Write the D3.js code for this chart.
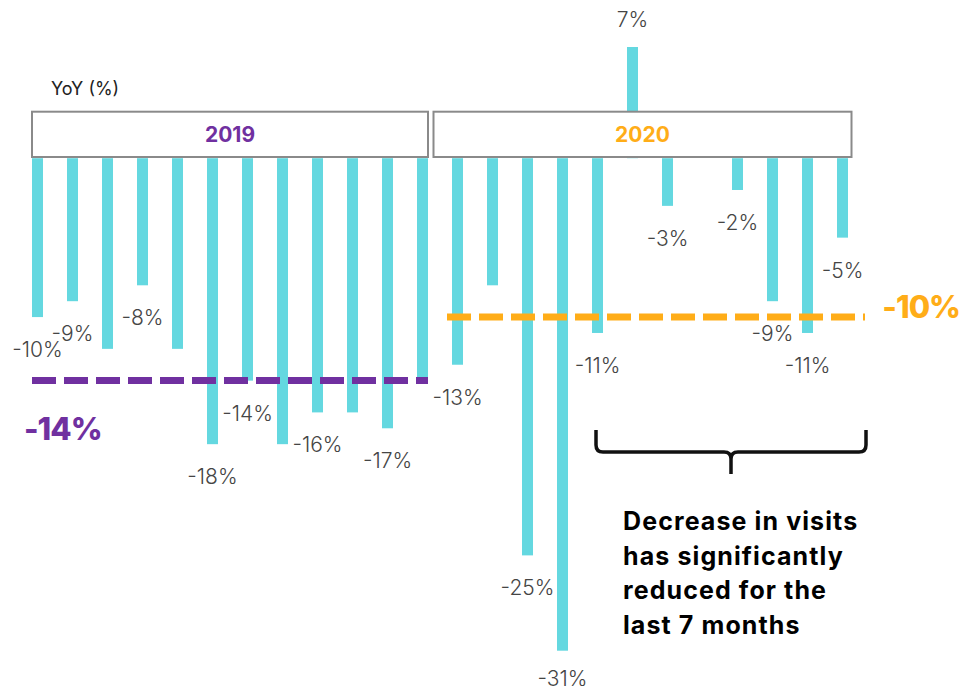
<!DOCTYPE html>
<html>
<head>
<meta charset="utf-8">
<script src="https://cdn.jsdelivr.net/npm/d3@7/dist/d3.min.js"></script>
<style>
  html, body { margin: 0; padding: 0; background: #ffffff; }
  svg { display: block; }
</style>
</head>
<body>
<div id="chart"></div>
<script>
// Monthly year-over-year change in visits (%), Jan 2019 – Dec 2020
const months = d3.range(24);
const yoy2019 = [-10, -9, -12, -8, -12, -18, -14, -18, -16, -16, -17, -14];
const yoy2020 = [-13, -8, -25, -31, -11, 7, -3, 0, -2, -9, -11, -5];
const yoyValues = yoy2019.concat(yoy2020);

// Which bars carry a value label
const labelled2019 = [true, true, false, true, false, true, true, false, true, false, true, false];
const labelled2020 = [true, false, true, true, true, true, true, false, true, true, true, true];
const labelled = labelled2019.concat(labelled2020);

// Yearly averages shown as dashed reference lines
const years = ["2019", "2020"];
const yearAverages = [-14, -10];
const yearColors = ["#7030a0", "#ffad18"];

const annotationLines = [
  "Decrease in visits",
  "has significantly",
  "reduced for the",
  "last 7 months"
];

const W = 961, H = 694;
const FONT = "Inter, 'Open Sans', sans-serif";
const barColor = "#64d8e0";
const labelColor = "#454545";

const svg = d3.select("#chart").append("svg")
  .attr("width", W).attr("height", H)
  .attr("viewBox", `0 0 ${W} ${H}`);

const x = d3.scaleBand().domain(months).range([20, 860]).padding(0);
const y = d3.scaleLinear().domain([-31, 7]).range([650.7, 47]);
const barW = 11;
const cx = i => x(i) + x.bandwidth() / 2;

// Bars
svg.append("g").selectAll("rect")
  .data(yoyValues)
  .join("rect")
  .attr("x", (d, i) => cx(i) - barW / 2)
  .attr("y", d => y(Math.max(0, d)))
  .attr("width", barW)
  .attr("height", d => Math.abs(y(d) - y(0)))
  .attr("fill", barColor);

// Year header boxes, drawn over the bar roots
const boxes = [
  { x0: cx(0) - barW / 2, x1: cx(11) + barW / 2 },
  { x0: cx(11) + barW / 2 + 5.5, x1: cx(23) + barW / 2 + 3.5 }
];
const boxTop = 111.7, boxBottom = 157;
const header = svg.append("g");
header.selectAll("rect")
  .data(boxes)
  .join("rect")
  .attr("x", d => d.x0)
  .attr("y", boxTop)
  .attr("width", d => d.x1 - d.x0)
  .attr("height", boxBottom - boxTop)
  .attr("fill", "#ffffff")
  .attr("stroke", "#8a8a8a")
  .attr("stroke-width", 2);
header.selectAll("text")
  .data(years)
  .join("text")
  .attr("x", (d, i) => (boxes[i].x0 + boxes[i].x1) / 2)
  .attr("y", 141.5)
  .attr("text-anchor", "middle")
  .attr("font-family", FONT)
  .attr("font-weight", 700)
  .attr("font-size", 21)
  .attr("fill", (d, i) => yearColors[i])
  .text(d => d);

// Axis caption
svg.append("text")
  .attr("x", 51)
  .attr("y", 95)
  .attr("font-family", FONT)
  .attr("font-size", 18)
  .attr("fill", "#222")
  .text("YoY (%)");

// Value labels: below negative bars, above positive ones
svg.append("g").selectAll("text")
  .data(yoyValues.map((v, i) => ({ v, i })).filter(d => labelled[d.i]))
  .join("text")
  .attr("x", d => cx(d.i))
  .attr("y", d => d.v < 0 ? Math.min(y(d.v) + 40, H - 8) : y(d.v) - 20)
  .attr("text-anchor", "middle")
  .attr("font-family", FONT)
  .attr("font-weight", 300)
  .attr("font-size", 21)
  .attr("fill", labelColor)
  .text(d => `${d.v}%`);

// Average lines
const avgSpans = [
  { x0: cx(0) - barW / 2, x1: cx(11) + barW / 2 },
  { x0: cx(12) - 10.5, x1: cx(23) + 22.5 }
];
svg.append("g").selectAll("line")
  .data(yearAverages)
  .join("line")
  .attr("x1", (d, i) => avgSpans[i].x0)
  .attr("x2", (d, i) => avgSpans[i].x1)
  .attr("y1", d => y(d))
  .attr("y2", d => y(d))
  .attr("stroke", (d, i) => yearColors[i])
  .attr("stroke-width", 7)
  .attr("stroke-dasharray", "24,8");

// Average labels
const avgLabelPos = [
  { x: 24, y: 440, anchor: "start" },
  { x: 960, y: 318, anchor: "end" }
];
svg.append("g").selectAll("text")
  .data(yearAverages)
  .join("text")
  .attr("x", (d, i) => avgLabelPos[i].x)
  .attr("y", (d, i) => avgLabelPos[i].y)
  .attr("text-anchor", (d, i) => avgLabelPos[i].anchor)
  .attr("font-family", FONT)
  .attr("font-weight", 800)
  .attr("font-size", 31)
  .attr("letter-spacing", -1)
  .attr("fill", (d, i) => yearColors[i])
  .text(d => `${d}%`);

// Brace spanning the last seven months
const bx0 = 596, bx1 = 866, bm = 731, bTop = 430, bLine = 452, bTip = 474, r = 7;
svg.append("path")
  .attr("d", `M${bx0},${bTop} V${bLine - r} Q${bx0},${bLine} ${bx0 + r},${bLine} H${bm - r} Q${bm},${bLine} ${bm},${bLine + r} V${bTip}` +
             ` M${bm},${bLine + r} Q${bm},${bLine} ${bm + r},${bLine} H${bx1 - r} Q${bx1},${bLine} ${bx1},${bLine - r} V${bTop}`)
  .attr("fill", "none")
  .attr("stroke", "#111")
  .attr("stroke-width", 3.5);

// Annotation
svg.append("g").selectAll("text")
  .data(annotationLines)
  .join("text")
  .attr("x", 623)
  .attr("y", (d, i) => 530 + i * 34.7)
  .attr("font-family", FONT)
  .attr("font-weight", 700)
  .attr("font-size", 25)
  .attr("letter-spacing", 1.1)
  .attr("fill", "#000")
  .text(d => d);
</script>
</body>
</html>
